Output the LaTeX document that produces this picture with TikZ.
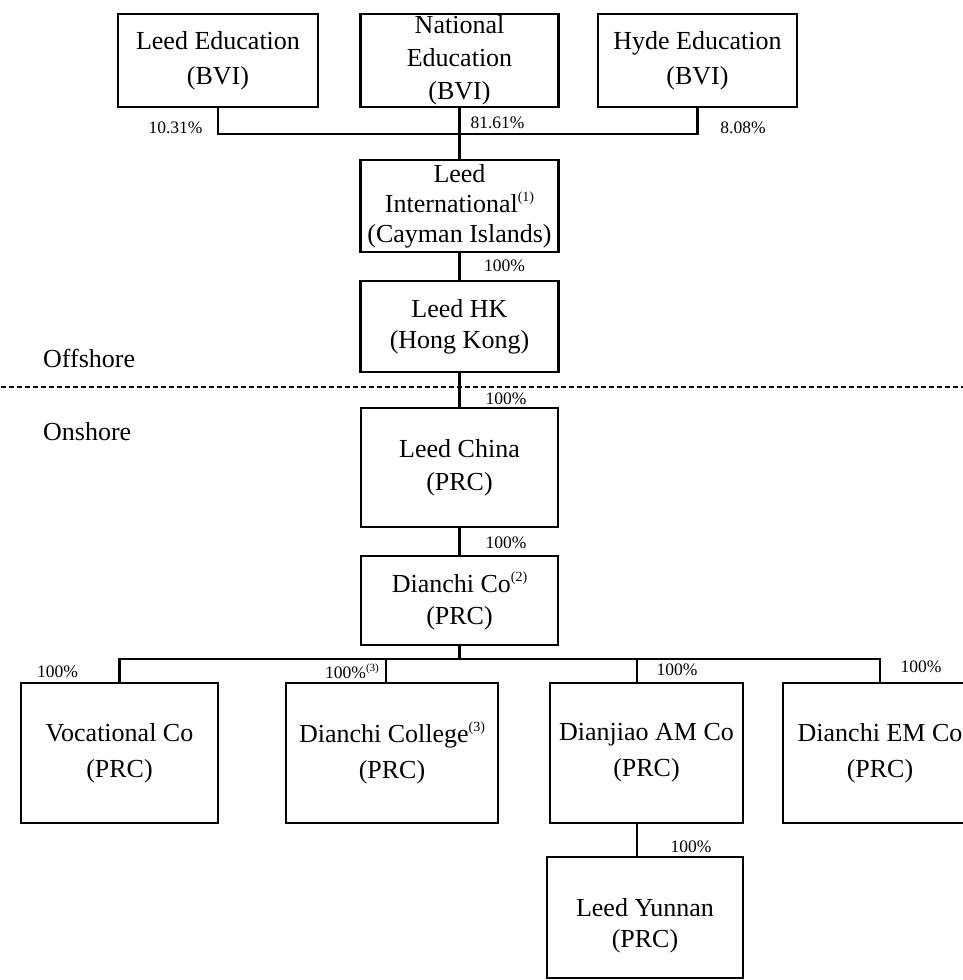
\documentclass[tikz,border=0pt]{standalone}
\usepackage{fontspec}
\setmainfont{Liberation Serif}
\newcommand\fnsup[1]{\raisebox{0.42em}{\fontsize{14}{14}\selectfont(#1)}}
\newcommand\fnsups[1]{\raisebox{0.42em}{\fontsize{11}{11}\selectfont(#1)}}
\tikzset{
  ent/.style={draw, line width=2.6pt, inner sep=0pt, align=center,
    font=\fontsize{26}{33}\selectfont},
  pct/.style={inner sep=0pt, font=\fontsize{17.5}{20}\selectfont},
  side/.style={inner sep=0pt, anchor=west, font=\fontsize{26}{30}\selectfont},
  link/.style={line width=2.2pt},
  sepline/.style={line width=2.5pt, dash pattern=on 5pt off 3pt, dash phase=-9pt}
}
\begin{document}
\begin{tikzpicture}[x=1pt,y=-1pt]
\useasboundingbox (0,0) rectangle (963,980);
% top row
\node[ent, minimum width=200pt, minimum height=93pt, font=\fontsize{26}{35}\selectfont] (le) at (218,60.5) {Leed Education\\(BVI)};
\node[ent, minimum width=198pt, minimum height=93pt, font=\fontsize{26}{33}\selectfont] (ne) at (459.5,60.5) {National\\Education\\(BVI)};
\node[ent, minimum width=199pt, minimum height=93pt, font=\fontsize{26}{35}\selectfont] (he) at (697.5,60.5) {Hyde Education\\(BVI)};
% middle column
\node[ent, minimum width=198pt, minimum height=92pt, font=\fontsize{26}{30}\selectfont] (li) at (459.5,206) {Leed\\International\fnsup{1}\\(Cayman Islands)};
\node[ent, minimum width=198pt, minimum height=91pt, font=\fontsize{26}{31}\selectfont] (hk) at (459.5,326.5) {Leed HK\\(Hong Kong)};
\node[ent, minimum width=197pt, minimum height=119pt] (lc) at (459.5,467.5) {Leed China\\(PRC)};
\node[ent, minimum width=197pt, minimum height=89pt, font=\fontsize{26}{32}\selectfont] (dc) at (459.5,600.5) {Dianchi Co\fnsup{2}\\(PRC)};
% bottom row
\node[ent, minimum width=197pt, minimum height=140pt, font=\fontsize{26}{36}\selectfont] (vc) at (119.5,753) {Vocational Co\\(PRC)};
\node[ent, minimum width=212pt, minimum height=140pt, font=\fontsize{26}{36}\selectfont] (dcol) at (392,753) {Dianchi College\fnsup{3}\\(PRC)};
\node[ent, minimum width=193pt, minimum height=140pt, font=\fontsize{26}{36}\selectfont] (dj) at (646.5,753) {Dianjiao AM Co\\(PRC)};
\node[ent, minimum width=194pt, minimum height=140pt, font=\fontsize{26}{36}\selectfont] (em) at (880,753) {Dianchi EM Co\\(PRC)};
\node[ent, minimum width=196pt, minimum height=121pt, font=\fontsize{26}{31}\selectfont] (ly) at (645,917.5) {\rule{0pt}{34pt}Leed Yunnan\\(PRC)};
% junctions
\coordinate (j1) at (459.5,134);
\coordinate (j2) at (459.5,659);
\coordinate (t2) at (386,683);
\coordinate (t3) at (637,683);
% connectors
\draw[link] (le.south) |- (j1) -| (he.south);
\draw[link] (ne.south) -- (li.north);
\draw[link] (li.south) -- (hk.north);
\draw[link] (hk.south) -- (lc.north);
\draw[link] (lc.south) -- (dc.north);
\draw[link] (dc.south) -- (j2);
\draw[link] (vc.north) |- (j2) -| (em.north);
\draw[link] (t2) -- (t2 |- j2);
\draw[link] (t3) -- (t3 |- j2);
\draw[link] (t3 |- dj.south) -- (t3 |- ly.north);
% separator
\draw[sepline] (0,387) -- (963,387);
\node[side] (off) at (43,358) {Offshore};
\node[side] (on) at (43,432) {Onshore};
% percentages
\node[pct] (p1) at (175.5,128) {10.31\%};
\node[pct] (p2) at (497.5,123) {81.61\%};
\node[pct] (p3) at (743,128) {8.08\%};
\node[pct] (p4) at (504.5,266) {100\%};
\node[pct] (p5) at (506,399) {100\%};
\node[pct] (p6) at (506,543) {100\%};
\node[pct] (p7) at (57.5,672) {100\%};
\node[pct] (p8) at (352,671) {100\%\fnsups{3}};
\node[pct] (p9) at (677,670) {100\%};
\node[pct] (p10) at (921,667) {100\%};
\node[pct] (p11) at (691,847) {100\%};
\end{tikzpicture}
\end{document}
